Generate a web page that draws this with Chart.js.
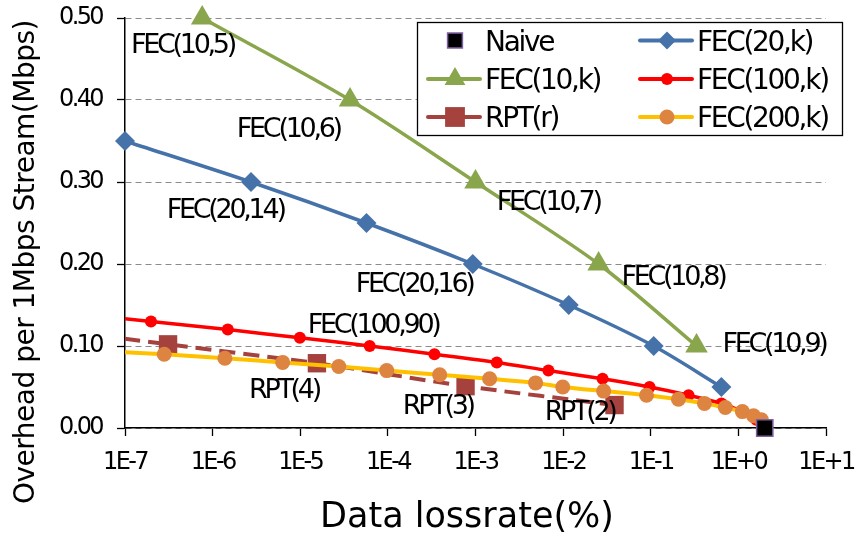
<!DOCTYPE html>
<html>
<head>
<meta charset="utf-8">
<script src="https://cdn.jsdelivr.net/npm/chart.js@4.4.1/dist/chart.umd.min.js"></script>
<style>
html, body { margin: 0; padding: 0; background: #fff; }
#wrap { width: 859px; height: 536px; }
</style>
</head>
<body>
<div id="wrap"><canvas id="chart" width="859" height="536"></canvas></div>
<script>
// axis ticks
const xTickValues = [1e-7, 1e-6, 1e-5, 1e-4, 1e-3, 1e-2, 1e-1, 1, 10];
const xTickLabels = ['1E-7', '1E-6', '1E-5', '1E-4', '1E-3', '1E-2', '1E-1', '1E+0', '1E+1'];
const yTickLabels = ['0.00', '0.10', '0.20', '0.30', '0.40', '0.50'];

// series (x = data lossrate %, y = overhead Mbps)
const naiveX = [2.0];
const naiveY = [0];

const fec10X = [7.6e-7, 3.7e-5, 1.0e-3, 0.0254, 0.333];
const fec10Y = [0.50, 0.40, 0.30, 0.20, 0.10];

const fec20X = [1e-7, 2.74e-6, 5.7e-5, 9.3e-4, 0.0116, 0.108, 0.64];
const fec20Y = [0.35, 0.30, 0.25, 0.20, 0.15, 0.10, 0.05];

// first point of the next three lies left of the axis (only its line shows)
const fec100X = [2.5e-8, 1.98e-7, 1.49e-6, 9.9e-6, 6.2e-5, 3.4e-4, 1.75e-3, 6.8e-3, 0.0282, 0.097, 0.27, 0.64, 1.1, 1.6];
const fec100Y = [0.14, 0.13, 0.12, 0.11, 0.10, 0.09, 0.08, 0.07, 0.06, 0.05, 0.04, 0.03, 0.02, 0.01];

const fec200X = [3.2e-8, 2.8e-7, 1.38e-6, 6.3e-6, 2.75e-5, 9.7e-5, 3.9e-4, 1.45e-3, 4.85e-3, 9.9e-3, 0.029, 0.0895, 0.207, 0.41, 0.71, 1.11, 1.49, 1.83];
const fec200Y = [0.095, 0.09, 0.085, 0.08, 0.075, 0.07, 0.065, 0.06, 0.055, 0.05, 0.045, 0.04, 0.035, 0.03, 0.025, 0.02, 0.015, 0.01];

const rptX = [1.5e-8, 3.1e-7, 1.55e-5, 7.7e-4, 0.0386];
const rptY = [0.12, 0.102, 0.079, 0.051, 0.028];

// point labels
const noteText = ['FEC(10,5)', 'FEC(10,6)', 'FEC(10,7)', 'FEC(10,8)', 'FEC(10,9)', 'FEC(20,14)', 'FEC(20,16)', 'FEC(100,90)', 'RPT(4)', 'RPT(3)', 'RPT(2)'];
const noteX = [1.17e-7, 1.89e-6, 1.75e-3, 0.0464, 0.66, 3.0e-7, 4.3e-5, 1.22e-5, 2.6e-6, 1.48e-4, 6.15e-3];
const noteY = [0.457, 0.355, 0.266, 0.174, 0.093, 0.256, 0.166, 0.116, 0.037, 0.017, 0.010];

const FONT = 'DejaVu Sans';
const GREEN = '#8AA64C', BLUE = '#4672AA', RED = '#FF0000', RPTC = '#A5423E',
    ORANGE = '#DD8440', YELLOW = '#FFC000', PURPLE = '#7E5FA0';

const pts = (xs, ys) => xs.map((x, i) => ({ x: x, y: ys[i] }));
const hideFirst = r => ctx => (ctx.dataIndex === 0 ? 0 : r);
const edgeClip = { left: 0, top: 30, right: 30, bottom: 30 };

function drawMarker(ctx, style, x, y, r, fill, stroke, sw) {
    ctx.save();
    ctx.beginPath();
    if (style === 'circle') {
        ctx.arc(x, y, r, 0, Math.PI * 2);
    } else if (style === 'rect') {
        const s = r * Math.SQRT1_2;
        ctx.rect(x - s, y - s, 2 * s, 2 * s);
    } else if (style === 'rectRot') {
        ctx.moveTo(x, y - r); ctx.lineTo(x + r, y); ctx.lineTo(x, y + r); ctx.lineTo(x - r, y);
        ctx.closePath();
    } else if (style === 'triangle') {
        ctx.moveTo(x, y - r);
        ctx.lineTo(x + r * 0.866, y + r / 2);
        ctx.lineTo(x - r * 0.866, y + r / 2);
        ctx.closePath();
    }
    ctx.fillStyle = fill;
    ctx.fill();
    if (sw) {
        ctx.lineWidth = sw;
        ctx.strokeStyle = stroke;
        ctx.stroke();
    }
    ctx.restore();
}

const legendItems = [
    { text: 'Naive', col: 0, row: 0, line: null, style: 'rect', r: 10.5, fill: '#000', stroke: PURPLE, sw: 1.5 },
    { text: 'FEC(20,k)', col: 1, row: 0, line: BLUE, style: 'rectRot', r: 9, fill: BLUE },
    { text: 'FEC(10,k)', col: 0, row: 1, line: GREEN, style: 'triangle', r: 12, fill: GREEN },
    { text: 'FEC(100,k)', col: 1, row: 1, line: RED, style: 'circle', r: 6, fill: RED },
    { text: 'RPT(r)', col: 0, row: 2, line: RPTC, style: 'rect', r: 14, fill: RPTC },
    { text: 'FEC(200,k)', col: 1, row: 2, line: YELLOW, style: 'circle', r: 7.5, fill: ORANGE }
];

const overlay = {
    id: 'overlay',
    beforeDraw(chart) {
        chart.ctx.letterSpacing = '-2.6px';
    },
    afterDraw(chart) {
        const ctx = chart.ctx,
            xs = chart.scales.x,
            ys = chart.scales.y;

        // point labels
        ctx.save();
        ctx.letterSpacing = '-3.3px';
        ctx.font = '27px "' + FONT + '"';
        ctx.fillStyle = '#000';
        ctx.textAlign = 'left';
        ctx.textBaseline = 'alphabetic';
        noteText.forEach((t, i) => {
            ctx.fillText(t, xs.getPixelForValue(noteX[i]), ys.getPixelForValue(noteY[i]));
        });
        ctx.restore();

        // legend
        ctx.save();
        ctx.fillStyle = '#fff';
        ctx.fillRect(417, 22, 426, 114);
        ctx.strokeStyle = '#000';
        ctx.lineWidth = 1.3;
        ctx.strokeRect(417.5, 22.5, 425, 113);
        const colX = [428, 640],
            rowY = [40.5, 79, 117];
        ctx.font = '28px "' + FONT + '"';
        ctx.letterSpacing = '-2.3px';
        ctx.textBaseline = 'alphabetic';
        legendItems.forEach(it => {
            const x0 = colX[it.col], y = rowY[it.row];
            if (it.line) {
                ctx.beginPath();
                ctx.lineCap = 'round';
                ctx.lineWidth = 4;
                ctx.strokeStyle = it.line;
                ctx.moveTo(x0, y);
                ctx.lineTo(x0 + 52, y);
                ctx.stroke();
            }
            drawMarker(ctx, it.style, x0 + 27, y, it.r, it.fill, it.stroke, it.sw);
            ctx.fillStyle = '#000';
            ctx.fillText(it.text, x0 + 57, y + 10);
        });
        ctx.restore();

        // axis titles
        ctx.save();
        ctx.fillStyle = '#000';
        ctx.letterSpacing = '0px';
        ctx.font = '35px "' + FONT + '"';
        ctx.textAlign = 'center';
        ctx.textBaseline = 'alphabetic';
        ctx.fillText('Data lossrate(%)', 467, 527);
        ctx.translate(27, 262);
        ctx.rotate(-Math.PI / 2);
        ctx.letterSpacing = '-0.5px';
        ctx.font = '28px "' + FONT + '"';
        ctx.textBaseline = 'middle';
        ctx.fillText('Overhead per 1Mbps Stream(Mbps)', 0, 0);
        ctx.restore();
    }
};

new Chart(document.getElementById('chart'), {
    type: 'line',
    data: {
        datasets: [
            {
                label: 'Naive',
                data: pts(naiveX, naiveY),
                showLine: false,
                pointStyle: 'rect',
                pointRadius: 11.5,
                pointBackgroundColor: '#000',
                pointBorderColor: PURPLE,
                pointBorderWidth: 1.5,
                clip: false,
                order: 0
            },
            {
                label: 'FEC(200,k)',
                data: pts(fec200X, fec200Y),
                borderColor: YELLOW,
                borderWidth: 4,
                tension: 0.3,
                pointStyle: 'circle',
                pointRadius: hideFirst(7.5),
                pointBackgroundColor: ORANGE,
                pointBorderWidth: 0,
                clip: edgeClip,
                order: 1
            },
            {
                label: 'FEC(100,k)',
                data: pts(fec100X, fec100Y),
                borderColor: RED,
                borderWidth: 3.5,
                tension: 0.3,
                pointStyle: 'circle',
                pointRadius: hideFirst(6),
                pointBackgroundColor: RED,
                pointBorderWidth: 0,
                clip: edgeClip,
                order: 2
            },
            {
                label: 'RPT(r)',
                data: pts(rptX, rptY),
                borderColor: RPTC,
                borderWidth: 4,
                borderDash: [16, 8],
                tension: 0.3,
                pointStyle: 'rect',
                pointRadius: hideFirst(13),
                pointBackgroundColor: RPTC,
                pointBorderWidth: 0,
                clip: edgeClip,
                order: 3
            },
            {
                label: 'FEC(20,k)',
                data: pts(fec20X, fec20Y),
                borderColor: BLUE,
                borderWidth: 3.5,
                tension: 0.3,
                pointStyle: 'rectRot',
                pointRadius: 10,
                pointBackgroundColor: BLUE,
                pointBorderWidth: 0,
                clip: false,
                order: 4
            },
            {
                label: 'FEC(10,k)',
                data: pts(fec10X, fec10Y),
                borderColor: GREEN,
                borderWidth: 3.5,
                tension: 0.3,
                pointStyle: 'triangle',
                pointRadius: 13,
                pointBackgroundColor: GREEN,
                pointBorderWidth: 0,
                clip: false,
                order: 5
            }
        ]
    },
    options: {
        responsive: false,
        animation: false,
        layout: {
            padding: { left: 0, top: 18, right: 33, bottom: 0 }
        },
        scales: {
            x: {
                type: 'logarithmic',
                min: 1e-7,
                max: 10,
                afterBuildTicks: s => {
                    s.ticks = xTickValues.map(v => ({ value: v }));
                },
                afterFit: s => {
                    s.height = 108;
                    s.paddingLeft = 0;
                    s.paddingRight = 0;
                },
                ticks: {
                    autoSkip: false,
                    maxRotation: 0,
                    padding: 12,
                    color: '#000',
                    font: { family: FONT, size: 24 },
                    callback: (v, i) => xTickLabels[i]
                },
                grid: {
                    drawOnChartArea: false,
                    drawTicks: true,
                    tickLength: 8,
                    tickColor: '#000',
                    tickWidth: 1.3
                },
                border: { color: '#000', width: 1.5 }
            },
            y: {
                min: 0,
                max: 0.5,
                afterFit: s => {
                    s.width = 125;
                    s.paddingTop = 0;
                    s.paddingBottom = 0;
                },
                ticks: {
                    stepSize: 0.1,
                    padding: 15,
                    color: '#000',
                    font: { family: FONT, size: 24 },
                    callback: (v, i) => yTickLabels[i]
                },
                grid: {
                    color: '#8c8c8c',
                    lineWidth: 1,
                    drawTicks: true,
                    tickLength: 8,
                    tickColor: '#000',
                    tickWidth: 1.3
                },
                border: { color: '#000', width: 1.5, dash: [6, 4] }
            }
        },
        plugins: {
            legend: { display: false },
            tooltip: { enabled: false }
        }
    },
    plugins: [overlay]
});
</script>
</body>
</html>
